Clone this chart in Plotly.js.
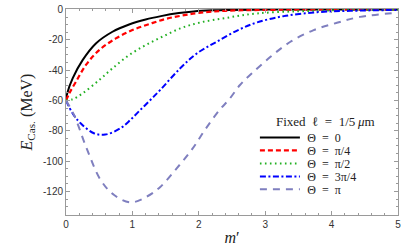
<!DOCTYPE html>
<html>
<head>
<meta charset="utf-8">
<script src="https://cdn.plot.ly/plotly-3.0.1.min.js"></script>
<style>html,body{margin:0;padding:0;background:#fff;}#chart{width:407px;height:249px;}</style>
</head>
<body>
<div id="chart"></div>
<script>
// Series data
var xTheta0 = [0, 0.02, 0.1, 0.25, 0.45, 0.7, 0.95, 1.2, 1.43, 1.7, 1.92, 2.2, 2.5, 3, 3.5, 4, 5];
var yTheta0 = [-60, -55, -45.4, -33.4, -22.4, -14.7, -9.9, -6.6, -4.4, -2.4, -1.3, -0.6, -0.3, -0.1, 0, 0, 0];

var xThetaQ = [0, 0.05, 0.15, 0.3, 0.5, 0.75, 1.0, 1.25, 1.5, 1.75, 2.0, 2.4, 3, 3.5, 4, 5];
var yThetaQ = [-60, -55.3, -47.6, -36.6, -26.8, -19.1, -13.6, -9.7, -6.3, -4.0, -2.3, -0.9, -0.3, -0.1, 0, 0];

var xThetaH = [0, 0.1, 0.25, 0.5, 0.7, 0.95, 1.2, 1.45, 1.72, 2.02, 2.42, 2.88, 3.5, 4, 4.5, 5];
var yThetaH = [-60, -59.2, -55.3, -46.5, -38.8, -30.1, -23.5, -18, -12.5, -8.6, -5.5, -2.6, -1.2, -0.6, -0.3, -0.1];

var xTheta3Q = [0, 0.1, 0.22, 0.42, 0.59, 0.82, 0.97, 1.12, 1.27, 1.42, 1.72, 1.97, 2.27, 2.62, 2.88, 3.28, 3.78, 4.28, 5];
var yTheta3Q = [-60, -68.5, -75, -81.6, -82.5, -78.3, -72.8, -66.2, -59.7, -53, -38.8, -29, -21.3, -13, -8.5, -4.4, -1.8, -0.9, -0.3];

var xThetaPi = [0, 0.12, 0.32, 0.52, 0.72, 0.97, 1.22, 1.42, 1.67, 1.9, 2.1, 2.32, 2.45, 2.62, 2.8, 3.08, 3.38, 3.73, 4.08, 4.43, 5];
var yThetaPi = [-60, -69.5, -92.6, -112.3, -122.2, -127.2, -123.3, -117, -104.6, -92.1, -78.9, -65.8, -59.7, -49.8, -42.1, -31.2, -21.3, -13.6, -8.8, -4.9, -2.1];

var seriesNames = ['Θ = 0', 'Θ = π/4', 'Θ = π/2', 'Θ = 3π/4', 'Θ = π'];

var yTickVals = [0, -20, -40, -60, -80, -100, -120];
var yTickText = ['0', '-20', '-40', '-60', '-80', '-100', '-120'];
var xTickVals = [0, 1, 2, 3, 4, 5];
var xTickText = ['0', '1', '2', '3', '4', '5'];

var legendTitle = 'Fixed ℓ = 1/5 <i>μ</i>m';

var styles = [
  {color: '#000000', width: 2, dash: 'solid'},
  {color: '#ff0000', width: 2.2, dash: '5px,3px'},
  {color: '#22b022', width: 2, dash: '1.6px,3.4px'},
  {color: '#0000ff', width: 2, dash: '6px,2.5px,2px,2.5px'},
  {color: '#7f7fbf', width: 2, dash: '7px,6px'}
];
var xs = [xTheta0, xThetaQ, xThetaH, xTheta3Q, xThetaPi];
var ys = [yTheta0, yThetaQ, yThetaH, yTheta3Q, yThetaPi];
var legendIds = ['legend', 'legend2', 'legend3', 'legend4', 'legend5'];

function spaced(s) {
  // widen the spacing around "=" like math typesetting
  return '\u2009' + s.replace(' = ', '\u2002=\u2002');
}

var traces = xs.map(function(x, i) {
  return {
    x: x, y: ys[i], type: 'scatter', mode: 'lines', name: spaced(seriesNames[i]),
    legend: legendIds[i],
    line: {color: styles[i].color, width: styles[i].width, dash: styles[i].dash, shape: 'spline', smoothing: 1}
  };
});

var serif = 'Liberation Serif, DejaVu Serif, serif';

var axisCommon = {
  showgrid: false, zeroline: false, showline: true, linecolor: '#9a9a9a', linewidth: 1,
  mirror: 'allticks', ticks: 'inside', ticklen: 4, tickwidth: 1, tickcolor: '#9a9a9a',
  tickfont: {family: 'Liberation Sans, Arial, sans-serif', size: 10, color: '#333'}
};

var legendBase = {
  x: 0.569, xanchor: 'left', yanchor: 'middle',
  bgcolor: 'rgba(0,0,0,0)', borderwidth: 0,
  font: {family: serif, size: 12, color: '#222'},
  itemwidth: 40
};
var legendRowsY = [0.3763, 0.3133, 0.2504, 0.1874, 0.1245];

var layout = {
  width: 407, height: 249,
  margin: {l: 65.5, r: 9, t: 8.5, b: 34, pad: 0},
  paper_bgcolor: '#fff', plot_bgcolor: '#fff',
  showlegend: true,
  xaxis: Object.assign({}, axisCommon, {
    range: [0, 5], tickmode: 'array', tickvals: xTickVals, ticktext: xTickText,
    minor: {dtick: 0.2, ticks: 'inside', ticklen: 2, tickcolor: '#9a9a9a', tickwidth: 1},
    title: {text: '<i>m</i>′', font: {family: serif, size: 16, color: '#222'}, standoff: 2}
  }),
  yaxis: Object.assign({}, axisCommon, {
    range: [-135.5, 0.3], tickmode: 'array', tickvals: yTickVals, ticktext: yTickText,
    minor: {dtick: 5, ticks: 'inside', ticklen: 2, tickcolor: '#9a9a9a', tickwidth: 1},
    title: {text: '<i>E</i><sub>Cas.</sub> (MeV)', font: {family: serif, size: 16, color: '#222'}, standoff: 6}
  }),
  annotations: [{
    text: legendTitle.replace('Fixed ', 'Fixed\u2002').replace(' = ', '\u2002=\u2002').replace(' <i>', '\u2009<i>'),
    xref: 'paper', yref: 'paper', x: 0.7811, y: 0.4518,
    xanchor: 'center', yanchor: 'middle', showarrow: false,
    font: {family: serif, size: 13, color: '#222'}
  }]
};
legendIds.forEach(function(id, i) {
  layout[id] = Object.assign({}, legendBase, {y: legendRowsY[i]});
});

Plotly.newPlot('chart', traces, layout, {staticPlot: true, displayModeBar: false});
</script>
</body>
</html>
